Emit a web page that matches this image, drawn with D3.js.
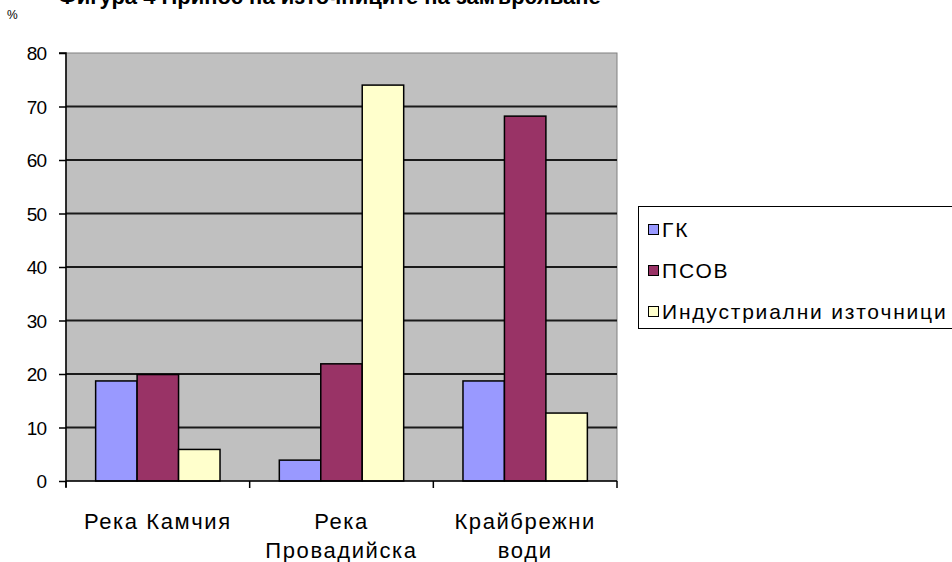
<!DOCTYPE html>
<html><head><meta charset="utf-8">
<script src="https://cdn.jsdelivr.net/npm/d3@7"></script>
<style>body{margin:0;background:#fff;overflow:hidden}svg{display:block}text{font-family:"Liberation Sans",Arial,sans-serif}</style>
</head><body>
<script>
const categories = [["Река Камчия"], ["Река", "Провадийска"], ["Крайбрежни", "води"]];
const seriesNames = ["ГК", "ПСОВ", "Индустриални източници"];
const seriesColors = ["#9999ff", "#993366", "#ffffcc"];
const valuesGK = [18.7, 3.9, 18.7];
const valuesPSOV = [19.9, 21.9, 68.2];
const valuesInd = [5.9, 74.0, 12.7];
const yTicks = [0, 10, 20, 30, 40, 50, 60, 70, 80];
const titleText = "Фигура 4 Принос на източниците на замърсяване";

const W = 952, H = 562;
const svg = d3.select("body").append("svg").attr("width", W).attr("height", H);
const m = {left: 66, right: 617, top: 53, bottom: 481};

const series = [valuesGK, valuesPSOV, valuesInd];
const x = d3.scaleBand().domain(d3.range(categories.length)).range([m.left, m.right]).paddingInner(0).paddingOuter(0);
const gap = 1.43;
const inner = d3.scaleBand().domain(d3.range(series.length)).range([0, x.bandwidth()])
  .paddingInner(0).paddingOuter(gap / 2);
const y = d3.scaleLinear().domain([0, 80]).range([m.bottom, m.top]);

// title (clipped at top, as in the reference)
svg.append("text").attr("x", 58).attr("y", 4).attr("font-size", 22).attr("font-weight", "bold").text(titleText);
svg.append("text").attr("x", 7).attr("y", 19).attr("font-size", 12).text("%");

// plot background
svg.append("rect").attr("x", m.left).attr("y", m.top).attr("width", m.right - m.left).attr("height", m.bottom - m.top)
  .attr("fill", "#c0c0c0").attr("stroke", "#808080").attr("stroke-width", 1);

// gridlines
svg.append("g").selectAll("line").data(yTicks.filter(d => d > 0 && d < 80)).join("line")
  .attr("x1", m.left).attr("x2", m.right).attr("y1", d => y(d)).attr("y2", d => y(d))
  .attr("stroke", "#1a1a1a").attr("stroke-width", 2);

// bars
series.forEach((vals, si) => {
  svg.append("g").selectAll("rect").data(vals).join("rect")
    .attr("x", (d, i) => x(i) + inner(si))
    .attr("y", d => y(d))
    .attr("width", inner.bandwidth())
    .attr("height", d => y(0) - y(d))
    .attr("fill", seriesColors[si]).attr("stroke", "#000").attr("stroke-width", 1.5);
});

// y axis
const yAxis = svg.append("g").attr("transform", `translate(${m.left},0)`)
  .call(d3.axisLeft(y).tickValues(yTicks).tickSize(7).tickPadding(13));
yAxis.select(".domain").attr("stroke", "#000").attr("stroke-width", 1.5).attr("d", `M-7,${m.top}H0V${m.bottom + 6}`);
yAxis.selectAll(".tick line").attr("stroke", "#000").attr("stroke-width", 1.5);
yAxis.selectAll("text").attr("font-size", 19).attr("letter-spacing", -1).attr("fill", "#000").attr("dy", "0.36em");

// x axis
svg.append("line").attr("x1", m.left).attr("x2", m.right).attr("y1", m.bottom).attr("y2", m.bottom)
  .attr("stroke", "#000").attr("stroke-width", 1.5);
const bounds = d3.range(categories.length + 1).map(i => i < categories.length ? x(i) : x(i - 1) + x.bandwidth());
svg.append("g").selectAll("line").data(bounds).join("line")
  .attr("x1", d => d).attr("x2", d => d).attr("y1", m.bottom).attr("y2", m.bottom + 7)
  .attr("stroke", "#000").attr("stroke-width", 1.5);
const xl = svg.append("g").selectAll("text").data(categories).join("text")
  .attr("x", (d, i) => x(i) + x.bandwidth() / 2).attr("y", 529)
  .attr("text-anchor", "middle").attr("font-size", 22).attr("letter-spacing", 1.6).attr("fill", "#000");
xl.selectAll("tspan").data(d => d).join("tspan")
  .attr("x", function () { return this.parentNode.getAttribute("x"); })
  .attr("dy", (d, i) => i === 0 ? 0 : 29).text(d => d);

// legend
const lg = svg.append("g");
lg.append("rect").attr("x", 638.5).attr("y", 206.5).attr("width", 330).attr("height", 122)
  .attr("fill", "#fff").attr("stroke", "#000").attr("stroke-width", 1);
seriesNames.forEach((n, i) => {
  const cy = 229 + i * 41;
  lg.append("rect").attr("x", 648.5).attr("y", cy - 4.5).attr("width", 10).attr("height", 10)
    .attr("fill", seriesColors[i]).attr("stroke", "#000").attr("stroke-width", 1);
  lg.append("text").attr("x", 662).attr("y", cy).attr("dy", "0.36em").attr("font-size", 21)
    .attr("letter-spacing", 1.8).attr("fill", "#000").text(n);
});
</script>
</body></html>
